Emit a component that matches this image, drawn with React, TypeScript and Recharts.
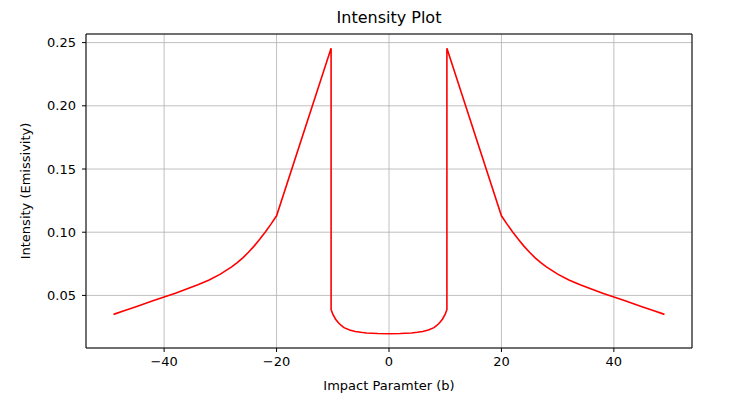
import React from "react";
import {
  LineChart,
  Line,
  XAxis,
  YAxis,
  CartesianGrid,
  ReferenceArea,
} from "recharts";

// impact parameter b (both halves)
const bValues = [
  -49, -47, -45, -42, -40, -38, -36, -34, -32, -30, -28, -27, -26, -25, -24, -23, -22, -21, -20,
  -10.3, -10.3, -10, -9.5, -9, -8.5, -8, -7, -6, -5, -4, -2,
  0,
  2, 4, 5, 6, 7, 8, 8.5, 9, 9.5, 10, 10.3, 10.3,
  20, 21, 22, 23, 24, 25, 26, 27, 28, 30, 32, 34, 36, 38, 40, 42, 45, 47, 49,
];

const intensity = [
  0.035, 0.0381, 0.0411, 0.0457, 0.0488, 0.0518, 0.055, 0.0584, 0.0622, 0.0668, 0.0726, 0.0759,
  0.0797, 0.0841, 0.089, 0.0944, 0.1002, 0.1064, 0.113,
  0.2455, 0.0387, 0.0352, 0.0312, 0.0284, 0.0262, 0.0245, 0.0226, 0.0215, 0.0208, 0.0203, 0.0199,
  0.0197,
  0.0199, 0.0203, 0.0208, 0.0215, 0.0226, 0.0245, 0.0262, 0.0284, 0.0312, 0.0352, 0.0387, 0.2455,
  0.113, 0.1064, 0.1002, 0.0944, 0.089, 0.0841, 0.0797, 0.0759, 0.0726, 0.0668, 0.0622, 0.0584,
  0.055, 0.0518, 0.0488, 0.0457, 0.0411, 0.0381, 0.035,
];

const xTicks = [-40, -20, 0, 20, 40];
const yTicks = [0.05, 0.1, 0.15, 0.2, 0.25];

const X_DOMAIN: [number, number] = [-53.9, 53.9];
const Y_DOMAIN: [number, number] = [0.0084, 0.2568];

const data = bValues.map((b, i) => ({ b, value: intensity[i] }));

const FONT = "'DejaVu Sans', sans-serif";

const fmtX = (v: number) => (v < 0 ? `\u2212${Math.abs(v)}` : `${v}`);
const fmtY = (v: number) => v.toFixed(2);

export default function App() {
  return (
    <div
      style={{
        position: "absolute",
        left: 0,
        top: 0,
        width: 751,
        height: 414,
        background: "#fff",
        fontFamily: FONT,
      }}
    >
      <div
        style={{
          position: "absolute",
          left: 86,
          top: 8,
          width: 606,
          textAlign: "center",
          fontSize: 16,
          lineHeight: "20px",
          color: "#000",
        }}
      >
        Intensity Plot
      </div>
      <LineChart
        width={751}
        height={414}
        data={data}
        margin={{ top: 34, right: 59, bottom: 16, left: 30 }}
      >
        <CartesianGrid stroke="#b0b0b0" strokeWidth={0.8} />
        <XAxis
          dataKey="b"
          type="number"
          domain={X_DOMAIN}
          ticks={xTicks}
          allowDataOverflow
          tickFormatter={fmtX}
          height={50}
          axisLine={false}
          tickLine={{ stroke: "#000" }}
          tickSize={4}
          tickMargin={5}
          tick={{ fill: "#000", fontSize: 13, fontFamily: FONT }}
          label={{
            value: "Impact Paramter (b)",
            position: "insideBottom",
            offset: 8,
            style: { fill: "#000", fontSize: 13, fontFamily: FONT },
          }}
        />
        <YAxis
          type="number"
          domain={Y_DOMAIN}
          ticks={yTicks}
          allowDataOverflow
          tickFormatter={fmtY}
          width={56}
          axisLine={false}
          tickLine={{ stroke: "#000" }}
          tickSize={4}
          tickMargin={6}
          tick={{ fill: "#000", fontSize: 13, fontFamily: FONT }}
          label={{
            value: "Intensity (Emissivity)",
            angle: -90,
            position: "insideLeft",
            offset: -5,
            style: { fill: "#000", fontSize: 13, fontFamily: FONT, textAnchor: "middle" },
          }}
        />
        <ReferenceArea
          x1={X_DOMAIN[0]}
          x2={X_DOMAIN[1]}
          y1={Y_DOMAIN[0]}
          y2={Y_DOMAIN[1]}
          fill="none"
          stroke="#000"
          strokeWidth={1}
        />
        <Line
          type="linear"
          dataKey="value"
          stroke="#ff0000"
          strokeWidth={1.6}
          dot={false}
          isAnimationActive={false}
        />
      </LineChart>
    </div>
  );
}
